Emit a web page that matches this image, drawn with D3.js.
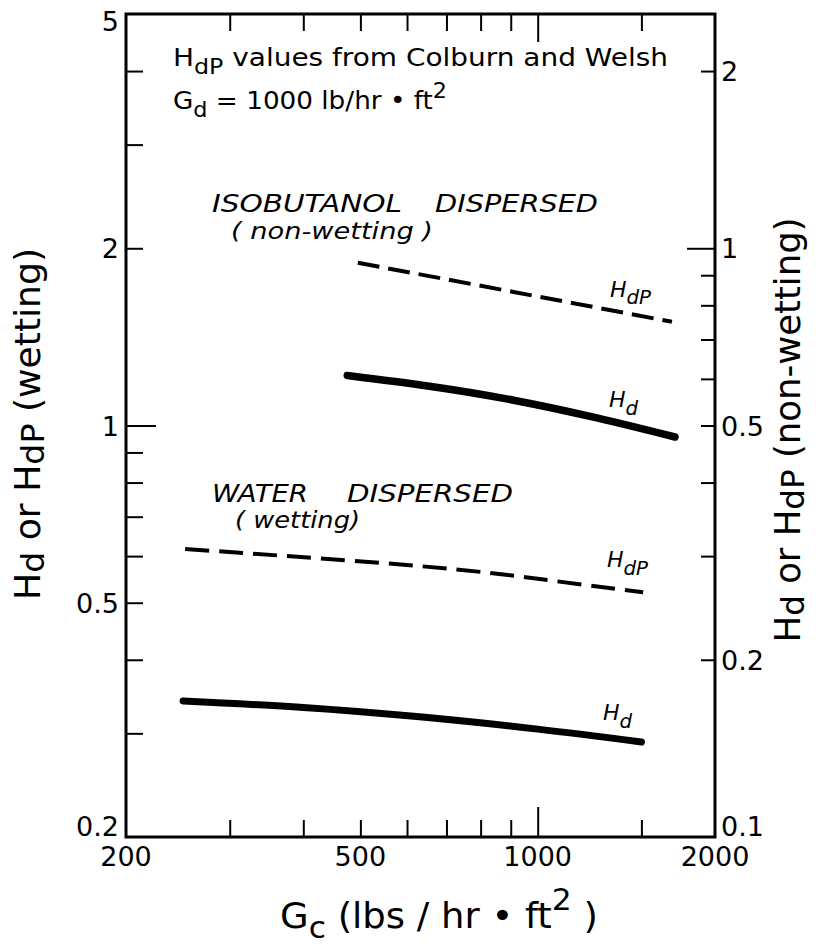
<!DOCTYPE html>
<html>
<head>
<meta charset="utf-8">
<script src="https://cdn.jsdelivr.net/npm/d3@7"></script>
<style>
  html, body { margin: 0; padding: 0; background: #fff; }
  svg { display: block; }
  text { font-family: "DejaVu Sans", sans-serif; fill: #000; white-space: pre; }
</style>
</head>
<body>
<svg id="chart" width="818" height="945"></svg>
<script>
// Continuous-phase flow rate G_c (lb/hr·ft²) at the points
const waterG = [250, 400, 630, 1000, 1500];
const waterHd = [0.3405, 0.332, 0.320, 0.305, 0.290];          // left axis (wetting)
const waterHdPG = [252, 630, 1000, 1510];
const waterHdP = [0.617, 0.577, 0.549, 0.521];                  // left axis (wetting)

const isoG = [475, 655, 910, 1260, 1710];
const isoHd = [0.608, 0.583, 0.552, 0.515, 0.478];             // right axis (non-wetting)
const isoHdPG = [495, 910, 1690];
const isoHdP = [0.945, 0.843, 0.750];                          // right axis (non-wetting)

// Axis ticks and labels
const xTicks = [300, 400, 500, 600, 700, 800, 900, 1000, 1500];
const xMajor = [1000];
const xLabels = [200, 500, 1000, 2000];
const yLeftTicks = [4, 3, 2, 1, 0.9, 0.8, 0.7, 0.6, 0.5, 0.4, 0.3];
const yLeftMajor = [1];
const yLeftLabels = [5, 2, 1, 0.5, 0.2];
const yRightTicks = [2, 1, 0.9, 0.8, 0.7, 0.6, 0.5, 0.4, 0.3, 0.2];
const yRightMajor = [1];
const yRightLabels = [2, 1, 0.5, 0.2, 0.1];

const svg = d3.select("#chart");
const L = 126, R = 715, T = 14, B = 837;

const x = d3.scaleLog().domain([200, 2000]).range([L, R]);
const yL = d3.scaleLog().domain([0.2, 5]).range([B, T]);
const yR = d3.scaleLog().domain([0.1, 2.5]).range([B, T]);

const fmt = v => String(v);

// Ticks are drawn inward on every side of the frame
const axisBottom = d3.axisBottom(x).tickValues(xTicks).tickFormat("").tickSizeOuter(0)
  .tickSizeInner(-17);
const axisTop = d3.axisTop(x).tickValues(xTicks).tickFormat("").tickSizeOuter(0)
  .tickSizeInner(-17);
const axisLeft = d3.axisLeft(yL).tickValues(yLeftTicks).tickFormat("").tickSizeOuter(0)
  .tickSizeInner(-17);
const axisRight = d3.axisRight(yR).tickValues(yRightTicks).tickFormat("").tickSizeOuter(0)
  .tickSizeInner(-14);

function styleAxis(g) {
  g.select(".domain").remove();
  g.selectAll(".tick line").attr("stroke", "#000").attr("stroke-width", 2);
}

svg.append("g").attr("transform", `translate(0,${B})`).call(axisBottom).call(styleAxis)
  .selectAll(".tick line").filter(d => xMajor.includes(d)).attr("y2", -30);
svg.append("g").attr("transform", `translate(0,${T})`).call(axisTop).call(styleAxis)
  .selectAll(".tick line").filter(d => xMajor.includes(d)).attr("y2", 28);
svg.append("g").attr("transform", `translate(${L},0)`).call(axisLeft).call(styleAxis)
  .selectAll(".tick line").filter(d => yLeftMajor.includes(d)).attr("x2", 30);
svg.append("g").attr("transform", `translate(${R},0)`).call(axisRight).call(styleAxis)
  .selectAll(".tick line").filter(d => yRightMajor.includes(d)).attr("x2", -28);

// Frame
svg.append("rect").attr("x", L).attr("y", T).attr("width", R - L).attr("height", B - T)
  .attr("fill", "none").attr("stroke", "#000").attr("stroke-width", 3);

// Tick labels: end labels sit inside the frame's corners, others are centred on their tick
function yLabelPos(scale, d, domain) {
  if (d === domain[0]) return scale(d) - 1;          // bottom corner: baseline on the axis
  if (d === domain[1]) return scale(d) + 17;         // top corner: hang from the axis
  return scale(d) + 10;
}
svg.append("g").selectAll("text").data(xLabels).join("text")
  .attr("x", d => x(d)).attr("y", 866).attr("text-anchor", "middle")
  .attr("font-size", 27).text(fmt);
svg.append("g").selectAll("text").data(yLeftLabels).join("text")
  .attr("x", 119).attr("y", d => yLabelPos(yL, d, [0.2, 5])).attr("text-anchor", "end")
  .attr("font-size", 27).text(fmt);
svg.append("g").selectAll("text").data(yRightLabels).join("text")
  .attr("x", 721).attr("y", d => yLabelPos(yR, d, [0.1, 2.5])).attr("text-anchor", "start")
  .attr("font-size", 27).text(fmt);

// Rich text: parts are [string, kind] with kind "", "sub" or "sup"
function rich(parent, px, py, parts, opt) {
  const t = parent.append("text").attr("x", px).attr("y", py)
    .attr("font-size", opt.size)
    .attr("text-anchor", opt.anchor || "start");
  if (opt.italic) t.attr("font-style", "italic");
  if (opt.transform) t.attr("transform", opt.transform);
  const subShift = opt.subShift ?? 0.3, supShift = opt.supShift ?? 0.45;
  const sRatio = opt.subSize ?? 0.8;
  let cur = 0;
  parts.forEach(([s, k]) => {
    const target = k === "sub" ? subShift * opt.size : k === "sup" ? -supShift * opt.size : 0;
    const sp = t.append("tspan").attr("dy", target - cur).text(s);
    if (k) sp.attr("font-size", opt.size * sRatio);
    cur = target;
  });
  if (opt.length) t.attr("textLength", opt.length)
    .attr("lengthAdjust", opt.adjust || "spacingAndGlyphs");
  return t;
}

// Axis titles
rich(svg, 280, 928, [["G", ""], ["c", "sub"], [" (lbs / hr • ft", ""], ["2", "sup"], [" )", ""]],
  { size: 36, length: 318, subShift: 0.28, supShift: 0.5, subSize: 0.85 });
rich(svg, 0, 0, [["H", ""], ["d", "sub"], [" or H", ""], ["dP", "sub"], [" (wetting)", ""]],
  { size: 35, anchor: "middle", length: 352, subShift: 0.1, subSize: 0.92,
    transform: "translate(40,424) rotate(-90)" });
rich(svg, 0, 0, [["H", ""], ["d", "sub"], [" or H", ""], ["dP", "sub"], [" (non-wetting)", ""]],
  { size: 35, anchor: "middle", length: 425, subShift: 0.1, subSize: 0.92,
    transform: "translate(800,430) rotate(-90)" });

// Annotations
rich(svg, 173, 66, [["H", ""], ["dP", "sub"], [" values from Colburn and Welsh", ""]],
  { size: 24, length: 495, subShift: 0.35, subSize: 0.85 });
rich(svg, 173, 109, [["G", ""], ["d", "sub"], [" = 1000 lb/hr • ft", ""], ["2", "sup"]],
  { size: 24, length: 274, subShift: 0.35, subSize: 0.85 });

rich(svg, 212, 212, [["ISOBUTANOL", ""]], { size: 24, italic: true, length: 190 });
rich(svg, 435, 212, [["DISPERSED", ""]], { size: 24, italic: true, length: 163 });
rich(svg, 231, 239, [["( non-wetting )", ""]], { size: 23, italic: true, length: 202 });
rich(svg, 610, 297, [["H", ""], ["dP", "sub"]], { size: 22, italic: true, subShift: 0.3, subSize: 0.9 });
rich(svg, 609, 407, [["H", ""], ["d", "sub"]], { size: 22, italic: true, subShift: 0.35, subSize: 0.9 });

rich(svg, 212, 502, [["WATER", ""]], { size: 24, italic: true, length: 96 });
rich(svg, 347, 502, [["DISPERSED", ""]], { size: 24, italic: true, length: 166 });
rich(svg, 235, 528, [["( wetting)", ""]], { size: 23, italic: true, length: 125 });
rich(svg, 607, 567, [["H", ""], ["dP", "sub"]], { size: 22, italic: true, subShift: 0.35, subSize: 0.9 });
rich(svg, 603, 720, [["H", ""], ["d", "sub"]], { size: 22, italic: true, subShift: 0.35, subSize: 0.9 });

// Curves
const lineL = d3.line().x(d => x(d[0])).y(d => yL(d[1])).curve(d3.curveNatural);
const lineR = d3.line().x(d => x(d[0])).y(d => yR(d[1])).curve(d3.curveNatural);

svg.append("path").attr("d", lineR(d3.zip(isoHdPG, isoHdP)))
  .attr("fill", "none").attr("stroke", "#000").attr("stroke-width", 4)
  .attr("stroke-dasharray", "22,9");
svg.append("path").attr("d", lineR(d3.zip(isoG, isoHd)))
  .attr("fill", "none").attr("stroke", "#000").attr("stroke-width", 7.5)
  .attr("stroke-linecap", "round");
svg.append("path").attr("d", lineL(d3.zip(waterHdPG, waterHdP)))
  .attr("fill", "none").attr("stroke", "#000").attr("stroke-width", 4)
  .attr("stroke-dasharray", "24,10");
svg.append("path").attr("d", lineL(d3.zip(waterG, waterHd)))
  .attr("fill", "none").attr("stroke", "#000").attr("stroke-width", 7)
  .attr("stroke-linecap", "round");
</script>
</body>
</html>
